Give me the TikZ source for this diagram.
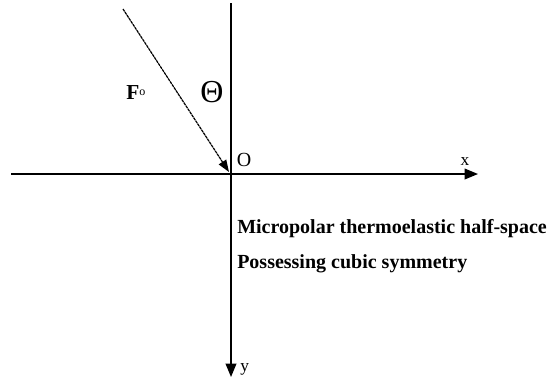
\documentclass[tikz,border=0pt]{standalone}
\usepackage{fontspec}
\setmainfont{Liberation Serif}
\usetikzlibrary{arrows.meta, positioning, calc}

\begin{document}
\begin{tikzpicture}[
    x=0.75pt, y=-0.75pt,
    axis/.style={line width=1.1pt, -{Triangle[length=10pt, width=8pt]}},
    force/.style={line width=0.9pt, dash pattern=on 2.2pt off 0.5pt, -{Triangle[length=9pt, width=6.5pt]}},
    lab/.style={font=\fontsize{13}{14}\selectfont, inner sep=0pt},
    txt/.style={font=\fontsize{15}{16}\selectfont\bfseries, inner sep=0pt, anchor=west},
]

% ===== lienzo =====
\useasboundingbox (0,0) rectangle (559,380);

% ===== ejes =====
\coordinate (O) at (231,174);
\coordinate (xl) at (11,174);
\coordinate (xr) at (478,174);
\coordinate (yt) at (231,3);
\coordinate (yb) at (231,377);
\draw[line width=1.1pt] (xl) -- (O);
\draw[axis] (O) -- (xr);
\draw[line width=1.1pt] (yt) -- (O);
\draw[axis] (O) -- (yb);

\node[lab] (xlab) at (465,162) {x};
\node[lab, anchor=west] (ylab) at (240,369) {y};
\node[lab, font=\fontsize{15}{15}\selectfont] (olab) at (244,160) {O};

% ===== fuerza =====
\coordinate (F) at (123,9);
\draw[force] (F) -- ($(O)+(-2,-2)$);
\node[lab, anchor=west] (flab) at (126,93) {\fontsize{16}{16}\selectfont\textbf{F}\raisebox{3pt}{\fontsize{9}{9}\selectfont o}};
\node[lab, font=\fontsize{24}{24}\selectfont] (theta) at (212,92) {Θ};

% ===== semiespacio =====
\node[txt] (t1) at (237,229) {Micropolar thermoelastic half-space};
\node[txt] (t2) at (237,264) {Possessing cubic symmetry};

\end{tikzpicture}
\end{document}
